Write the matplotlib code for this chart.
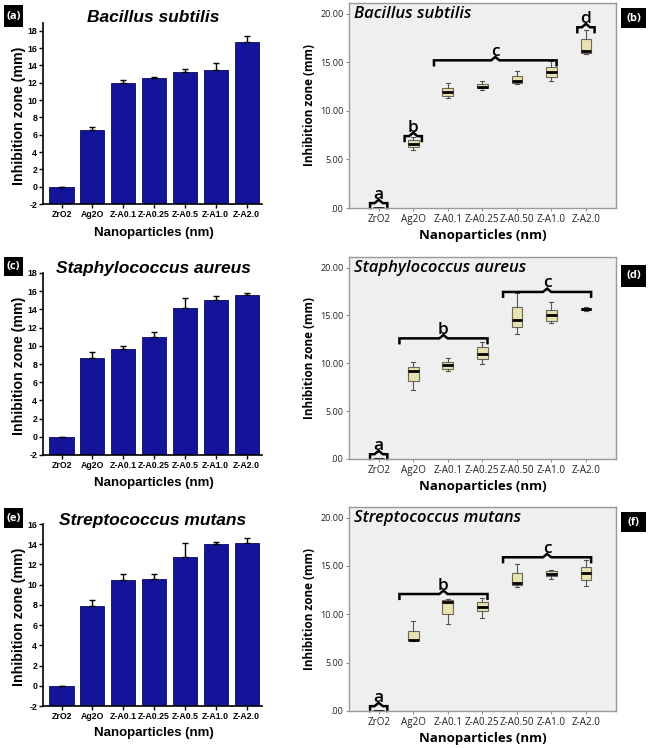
import matplotlib
matplotlib.use("Agg")
import matplotlib.pyplot as plt
import numpy as np
from matplotlib.patches import Rectangle

# ---------------- data ----------------
bar_cats = ["ZrO2", "Ag2O", "Z-A0.1", "Z-A0.25", "Z-A0.5", "Z-A1.0", "Z-A2.0"]
box_cats = ["ZrO2", "Ag2O", "Z-A0.1", "Z-A0.25", "Z-A0.50", "Z-A1.0", "Z-A2.0"]

bs_mean = [0.0, 6.5, 11.95, 12.5, 13.27, 13.46, 16.75]
bs_err = [0.0, 0.35, 0.32, 0.22, 0.33, 0.77, 0.6]
sa_mean = [0.0, 8.7, 9.7, 10.95, 14.15, 15.05, 15.6]
sa_err = [0.0, 0.6, 0.3, 0.55, 1.05, 0.45, 0.2]
sm_mean = [0.0, 7.9, 10.45, 10.55, 12.7, 13.98, 14.08]
sm_err = [0.0, 0.55, 0.65, 0.55, 1.4, 0.22, 0.52]

# box stats: whisker low, Q1, median, Q3, whisker high
bs_wlo = [0.0, 5.95, 11.3, 12.15, 12.8, 13.05, 15.9]
bs_q1 = [0.0, 6.3, 11.55, 12.3, 12.9, 13.5, 16.0]
bs_med = [0.0, 6.55, 11.95, 12.5, 13.05, 14.0, 16.2]
bs_q3 = [0.0, 6.95, 12.3, 12.8, 13.6, 14.5, 17.4]
bs_whi = [0.0, 7.35, 12.9, 13.05, 14.1, 15.1, 18.3]

sa_wlo = [0.0, 7.2, 9.2, 9.9, 13.1, 14.2, 15.45]
sa_q1 = [0.0, 8.1, 9.4, 10.4, 13.8, 14.45, 15.55]
sa_med = [0.0, 9.15, 9.8, 10.95, 14.5, 15.0, 15.65]
sa_q3 = [0.0, 9.6, 10.1, 11.65, 15.9, 15.6, 15.8]
sa_whi = [0.0, 10.15, 10.5, 12.25, 17.3, 16.4, 15.9]

sm_wlo = [0.0, 7.25, 9.05, 9.6, 12.8, 13.7, 12.9]
sm_q1 = [0.0, 7.3, 10.0, 10.3, 13.05, 13.95, 13.5]
sm_med = [0.0, 7.35, 11.3, 10.8, 13.2, 14.2, 14.25]
sm_q3 = [0.0, 8.3, 11.45, 11.25, 14.25, 14.45, 14.9]
sm_whi = [0.0, 9.3, 11.55, 11.65, 15.25, 14.55, 15.65]

titles = ["Bacillus subtilis", "Staphylococcus aureus", "Streptococcus mutans"]
left_tags = ["(a)", "(c)", "(e)"]
right_tags = ["(b)", "(d)", "(f)"]
bar_ytops = [18.9, 18, 16]

# significance groups: letter, first category index, last category index, level
groups_bs = [("a", 0, 0, 0.5), ("b", 1, 1, 7.4), ("c", 2, 5, 15.2), ("d", 6, 6, 18.6)]
groups_sa = [("a", 0, 0, 0.5), ("b", 1, 3, 12.6), ("c", 4, 6, 17.45)]
groups_sm = [("a", 0, 0, 0.5), ("b", 1, 3, 12.1), ("c", 4, 6, 15.9)]

means = [bs_mean, sa_mean, sm_mean]
errs = [bs_err, sa_err, sm_err]
boxdata = [
    (bs_wlo, bs_q1, bs_med, bs_q3, bs_whi),
    (sa_wlo, sa_q1, sa_med, sa_q3, sa_whi),
    (sm_wlo, sm_q1, sm_med, sm_q3, sm_whi),
]
groups = [groups_bs, groups_sa, groups_sm]

# ---------------- layout ----------------
W, H = 648, 748
fig = plt.figure(figsize=(W / 100, H / 100), dpi=100)
fig.patch.set_facecolor("white")


def px_axes(x0, y0, x1, y1):
    return fig.add_axes([x0 / W, 1 - y1 / H, (x1 - x0) / W, (y1 - y0) / H])


def tag(x0, y0, x1, y1, text):
    fig.patches.append(Rectangle((x0 / W, 1 - y1 / H), (x1 - x0) / W, (y1 - y0) / H,
                                 transform=fig.transFigure, facecolor="black",
                                 edgecolor="none"))
    fig.text((x0 + x1) / 2 / W, 1 - (y0 + y1) / 2 / H, text, color="white",
             ha="center", va="center", fontsize=8, fontweight="bold",
             family="Open Sans")


left_rows = [(23, 204), (273, 455), (524, 706)]
right_rows = [(3, 208), (257, 459), (507, 711)]
xlabel_y = [233, 483, 733]

bar_color = "#14149a"
box_fill = "#e8e2b0"

for i in range(3):
    # ---------- left: bar chart ----------
    top, bot = left_rows[i]
    ax = px_axes(43, top, 262, bot)
    x = np.arange(len(bar_cats))
    vals = np.array(means[i])
    e = np.array(errs[i])
    ax.bar(x, vals + 2, bottom=-2, width=0.78, color=bar_color,
           edgecolor="#0a0a60", linewidth=0.6)
    ax.errorbar(x, vals, yerr=[np.zeros_like(e), e], fmt="none",
                ecolor="black", elinewidth=1.0, capsize=2.2, capthick=1.0)
    ax.set_xlim(-0.6, 6.5)
    ax.set_ylim(-2, bar_ytops[i])
    ax.set_yticks(np.arange(-2, bar_ytops[i] + 0.01, 2))
    ax.set_yticklabels([str(int(v)) for v in np.arange(-2, bar_ytops[i] + 0.01, 2)])
    ax.set_xticks(x)
    ax.set_xticklabels(bar_cats)
    for s in ["top", "right"]:
        ax.spines[s].set_visible(False)
    for s in ["left", "bottom"]:
        ax.spines[s].set_linewidth(1.2)
    ax.tick_params(axis="both", direction="out", length=3, width=1, pad=1.2)
    for lab in ax.get_xticklabels():
        lab.set_fontsize(6.3)
        lab.set_fontweight("bold")
        lab.set_family("Liberation Sans")
    for lab in ax.get_yticklabels():
        lab.set_fontsize(6.3)
        lab.set_fontweight("bold")
        lab.set_family("Liberation Sans")
    ax.set_facecolor("white")
    fig.text(19 / W, 1 - ((top + bot) / 2 + 2) / H, "Inhibition zone (mm)", rotation=90,
             ha="center", va="center", fontsize=10.2, fontweight="bold",
             family="Liberation Sans")
    fig.text(154 / W, 1 - xlabel_y[i] / H, "Nanoparticles (nm)",
             ha="center", va="center", fontsize=9.5, fontweight="bold",
             family="Liberation Sans")
    title_y = [18, 269, 521][i]
    fig.text(153 / W, 1 - title_y / H, titles[i], ha="center", va="center",
             fontsize=12.5, fontweight="bold", style="italic",
             family="Liberation Sans")
    ty = [(5, 27), (257, 276), (508, 528)][i]
    tag(4, ty[0], 23, ty[1], left_tags[i])

    # ---------- right: box plot ----------
    top, bot = right_rows[i]
    axb = px_axes(349, top, 616, bot)
    axb.set_facecolor("#efefef")
    wlo, q1, med, q3, whi = boxdata[i]
    stats = []
    for k in range(len(box_cats)):
        stats.append(dict(med=med[k], q1=q1[k], q3=q3[k], whislo=wlo[k],
                          whishi=whi[k], fliers=[], label=box_cats[k]))
    axb.bxp(stats, positions=np.arange(len(box_cats)), widths=0.31,
            patch_artist=True, showfliers=False,
            boxprops=dict(facecolor=box_fill, edgecolor="#6a6a5a", linewidth=0.8),
            medianprops=dict(color="black", linewidth=2.0),
            whiskerprops=dict(color="#555555", linewidth=0.8),
            capprops=dict(color="#555555", linewidth=0.8),
            capwidths=0.12)
    axb.set_xlim(-0.86, 6.87)
    axb.set_ylim(0, 21.1)
    axb.set_yticks([0, 5, 10, 15, 20])
    axb.set_yticklabels([".00", "5.00", "10.00", "15.00", "20.00"])
    axb.set_xticks(np.arange(len(box_cats)))
    axb.set_xticklabels(box_cats)
    for s in axb.spines.values():
        s.set_color("#9a9a9a")
        s.set_linewidth(1.0)
    axb.tick_params(axis="both", direction="out", length=2, width=0.6,
                    color="#777777", pad=2)
    axb.tick_params(axis="x", labelsize=7.1)
    axb.tick_params(axis="y", labelsize=6.5)
    for lab in axb.get_xticklabels() + axb.get_yticklabels():
        lab.set_family("Open Sans")
        lab.set_color("#222222")
    axb.set_xlabel("Nanoparticles (nm)", fontsize=9.5, fontweight="bold",
                   family="Open Sans", labelpad=3)
    axb.set_ylabel("Inhibition zone (mm)", fontsize=8.5, fontweight="bold",
                   family="Open Sans", labelpad=3)
    axb.text(0.02, 0.985, titles[i], transform=axb.transAxes, ha="left", va="top",
             fontsize=12, style="italic", fontweight="semibold", family="Open Sans")
    # significance brackets
    for letter, a0, a1, lev in groups[i]:
        x1 = a0 - 0.25
        x2 = a1 + 0.25
        if a1 > a0:
            x1 = a0 - 0.4
            x2 = a1 + 0.15
        xm = (x1 + x2) / 2
        d = 0.12
        axb.plot([x1, x1, xm - d, xm, xm + d, x2, x2],
                 [lev - 0.5, lev, lev, lev + 0.35, lev, lev, lev - 0.5],
                 color="black", linewidth=1.8, solid_joinstyle="miter",
                 clip_on=False)
        axb.text(xm, lev + 0.05, letter, ha="center", va="bottom", fontsize=12.5,
                 fontweight="semibold", family="Open Sans")
    ry = [(8, 28), (265, 287), (512, 532)][i]
    tag(621, ry[0], 646, ry[1], right_tags[i])

fig.savefig("out.png", dpi=100, facecolor="white")
